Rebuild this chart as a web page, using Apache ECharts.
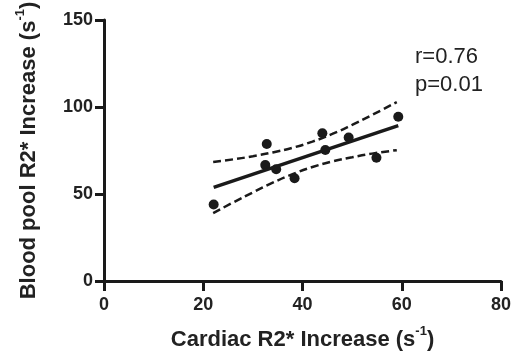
<!DOCTYPE html>
<html>
<head>
<meta charset="utf-8">
<script src="https://cdn.jsdelivr.net/npm/echarts@6/dist/echarts.min.js"></script>
<style>
html,body{margin:0;padding:0;background:#fff;}
#c{width:517px;height:356px;}
</style>
</head>
<body>
<div id="c"></div>
<script>
// Data
var pointsX = [22.1, 32.8, 32.5, 34.7, 38.4, 44.0, 44.6, 49.3, 54.9, 59.3];
var pointsY = [44.0, 78.7, 66.6, 64.2, 59.1, 84.9, 75.3, 82.5, 70.8, 94.4];
var fitX = [22.1, 59.3];
var fitY = [53.8, 89.3];
var bandX = [22, 26, 30, 34, 38, 42, 46, 50, 54, 59];
var bandUpper = [68.4, 69.9, 71.7, 73.9, 76.6, 80.1, 84.5, 89.7, 95.4, 102.8];
var bandLower = [39.0, 45.1, 50.9, 56.5, 61.4, 65.5, 68.7, 71.1, 73.2, 75.2];
var xTicks = [0, 20, 40, 60, 80];
var yTicks = [0, 50, 100, 150];
var statLines = ['r=0.76', 'p=0.01'];

function zip(a, b) { return a.map(function (v, i) { return [v, b[i]]; }); }

var FONT = '"Liberation Sans", Arial, Helvetica, sans-serif';
var INK = '#1a1a1a';

var chart = echarts.init(document.getElementById('c'), null, {renderer: 'canvas'});
chart.setOption({
  animation: false,
  backgroundColor: '#fff',
  grid: {left: 104, right: 16, top: 20, bottom: 71},
  xAxis: {
    type: 'value', min: xTicks[0], max: xTicks[xTicks.length - 1], interval: 20,
    splitLine: {show: false},
    axisLine: {show: true, onZero: false, lineStyle: {color: INK, width: 3}},
    axisTick: {show: true, length: 10, lineStyle: {color: INK, width: 3}},
    axisLabel: {margin: 15, color: '#222', fontFamily: FONT, fontWeight: 'bold', fontSize: 18},
    name: '{a|Cardiac R2* Increase (s}{s|-1}{a|)}',
    nameLocation: 'middle', nameGap: 44,
    nameTextStyle: {
      rich: {
        a: {fontFamily: FONT, fontWeight: 'bold', fontSize: 22, color: '#222', verticalAlign: 'bottom', lineHeight: 26},
        s: {fontFamily: FONT, fontWeight: 'bold', fontSize: 13, color: '#222', verticalAlign: 'top', lineHeight: 26, padding: [0, 0, 10, 0]}
      }
    }
  },
  yAxis: {
    type: 'value', min: yTicks[0], max: yTicks[yTicks.length - 1], interval: 50,
    splitLine: {show: false},
    axisLine: {show: true, onZero: false, lineStyle: {color: INK, width: 3}},
    axisTick: {show: true, length: 9, lineStyle: {color: INK, width: 3}},
    axisLabel: {margin: 11, color: '#222', fontFamily: FONT, fontWeight: 'bold', fontSize: 18},
    name: '{a|Blood pool R2* Increase (s}{s|-1}{a|)}',
    nameLocation: 'middle', nameGap: 64,
    nameTextStyle: {
      rich: {
        a: {fontFamily: FONT, fontWeight: 'bold', fontSize: 22, color: '#222', verticalAlign: 'bottom', lineHeight: 26},
        s: {fontFamily: FONT, fontWeight: 'bold', fontSize: 13, color: '#222', verticalAlign: 'top', lineHeight: 26, padding: [0, 0, 10, 0]}
      }
    }
  },
  graphic: [{
    type: 'text', left: 415, top: 43,
    style: {text: statLines.join('\n'), font: '22px ' + FONT, fill: '#222', lineHeight: 28}
  }],
  series: [
    {type: 'line', data: zip(bandX, bandUpper), smooth: true, symbol: 'none',
     lineStyle: {color: INK, width: 2.5, type: [8, 4]}},
    {type: 'line', data: zip(bandX, bandLower), smooth: true, symbol: 'none',
     lineStyle: {color: INK, width: 2.5, type: [8, 4]}},
    {type: 'line', data: zip(fitX, fitY), symbol: 'none',
     lineStyle: {color: INK, width: 3.5}},
    {type: 'scatter', data: zip(pointsX, pointsY), symbol: 'circle', symbolSize: 10,
     itemStyle: {color: INK, opacity: 1}}
  ]
});
</script>
</body>
</html>
